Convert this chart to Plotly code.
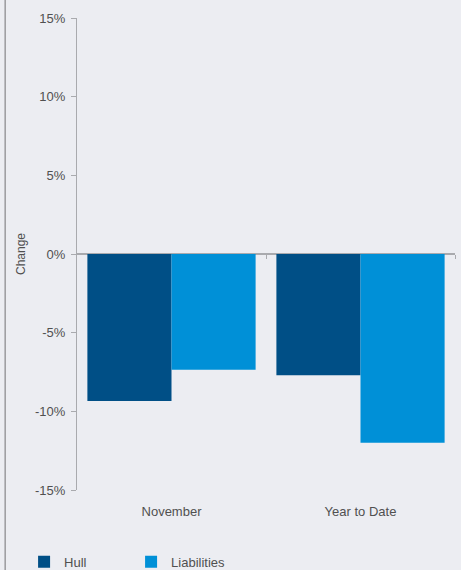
import plotly.graph_objects as go

categories = ["November", "Year to Date"]
hull = [-9.35, -7.7]
liabilities = [-7.35, -12.0]
y_ticks = [-15, -10, -5, 0, 5, 10, 15]
y_tick_labels = ["-15%", "-10%", "-5%", "0%", "5%", "10%", "15%"]

bg = "#ECEDF2"
axis_grey = "#A9AAAE"
text_grey = "#505050"
font_family = "Liberation Sans, Arial, sans-serif"

fig = go.Figure()
fig.add_trace(go.Bar(name="Hull", x=categories, y=hull, marker_color="#004F86",
                     marker_line_width=0))
fig.add_trace(go.Bar(name="Liabilities", x=categories, y=liabilities,
                     marker_color="#0090D7", marker_line_width=0))
# empty helper trace so the category-boundary ticks on the zero line get drawn
fig.add_trace(go.Scatter(x=[], y=[], xaxis="x2", yaxis="y", showlegend=False,
                         hoverinfo="skip"))

fig.update_layout(
    width=461, height=570,
    margin=dict(l=77, r=6, t=18, b=80, autoexpand=False),
    paper_bgcolor=bg, plot_bgcolor=bg,
    barmode="group", bargap=0.11, bargroupgap=0,
    font=dict(family=font_family, size=13, color=text_grey),
    showlegend=True,
    legend=dict(orientation="h", x=-0.14, xanchor="left", y=-0.152, yanchor="middle",
                font=dict(size=13, color=text_grey), entrywidth=62,
                bgcolor="rgba(0,0,0,0)", itemwidth=30),
    xaxis=dict(type="category", showline=False, showgrid=False, zeroline=False,
               ticks="", ticklabelstandoff=12, tickfont=dict(size=13, color=text_grey)),
    xaxis2=dict(overlaying="x", anchor="free", position=0.5, side="bottom",
                range=[-0.5, 1.5], showline=False, showgrid=False, zeroline=False,
                ticks="outside", ticklen=4, tickwidth=1, tickcolor=axis_grey,
                tickvals=[0.5, 1.5], showticklabels=False),
    yaxis=dict(range=[-15, 15], tickvals=y_ticks, ticktext=y_tick_labels,
               showgrid=False, showline=True, linecolor=axis_grey, linewidth=1,
               ticks="outside", ticklen=5, tickcolor=axis_grey, tickwidth=1,
               ticklabelstandoff=3,
               zeroline=True, zerolinecolor=axis_grey, zerolinewidth=1.5,
               title=dict(text="Change", standoff=6, font=dict(size=12, color=text_grey)),
               tickfont=dict(size=13, color=text_grey)),
    shapes=[dict(type="line", xref="paper", yref="paper",
                 x0=-0.19, x1=-0.19, y0=-0.2, y1=1.05,
                 line=dict(color="#9A9A9E", width=1.5))],
)

fig.write_html("out.html")
